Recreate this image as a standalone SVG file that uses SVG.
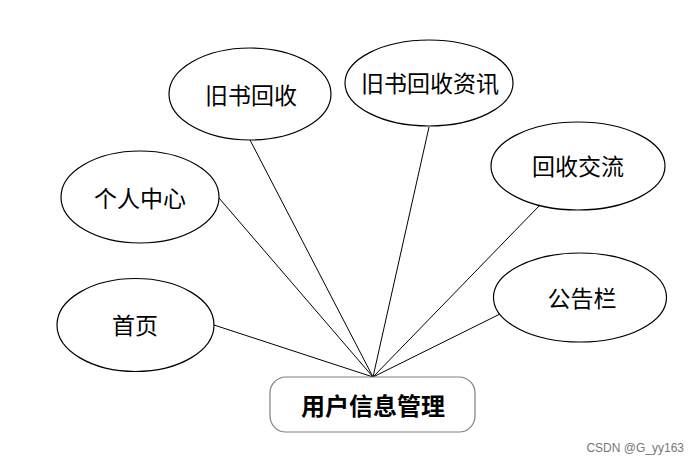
<svg xmlns="http://www.w3.org/2000/svg" width="698" height="465" viewBox="0 0 698 465">
<style>
.n ellipse{fill:#fff;stroke:#000;stroke-width:1.2}
.t{font-family:"Noto Sans CJK SC","Noto Sans CJK JP",sans-serif;font-size:23px;fill:#000;text-anchor:middle;dominant-baseline:central}
.m{font-weight:bold;font-size:24px}
#edges line{stroke:#000;stroke-width:1}
</style>
<rect width="698" height="465" fill="#fff"/>
<g id="edges">
<line x1="214" y1="325" x2="373" y2="377"/>
<line x1="219" y1="198" x2="373" y2="377"/>
<line x1="250" y1="140" x2="373" y2="377"/>
<line x1="429" y1="127" x2="373" y2="377"/>
<line x1="539" y1="206" x2="373" y2="377"/>
<line x1="500" y1="314" x2="373" y2="377"/>
</g>
<g id="n-jiushuhuishou" class="n"><ellipse cx="250" cy="94" rx="81" ry="46"/><text class="t" x="251" y="94">旧书回收</text></g>
<g id="n-zixun" class="n"><ellipse cx="429" cy="83" rx="84" ry="43"/><text class="t" x="430" y="82">旧书回收资讯</text></g>
<g id="n-geren" class="n"><ellipse cx="140" cy="197" rx="79" ry="46"/><text class="t" x="140" y="197">个人中心</text></g>
<g id="n-shouye" class="n"><ellipse cx="135.5" cy="325" rx="78.5" ry="46.5"/><text class="t" x="135" y="324">首页</text></g>
<g id="n-jiaoliu" class="n"><ellipse cx="578" cy="166" rx="87" ry="44"/><text class="t" x="578" y="165">回收交流</text></g>
<g id="n-gonggao" class="n"><ellipse cx="580" cy="297.5" rx="86.5" ry="44.5"/><text class="t" x="582" y="297">公告栏</text></g>
<g id="n-main"><rect x="270" y="377" width="205" height="55" rx="16" fill="#fff" stroke="#808080" stroke-width="1.2"/><text class="t m" x="373" y="404">用户信息管理</text></g>
<text x="684" y="452" font-family="'Liberation Sans','Noto Sans CJK SC',sans-serif" font-size="12" fill="#777" text-anchor="end">CSDN @G_yy163</text>
</svg>
